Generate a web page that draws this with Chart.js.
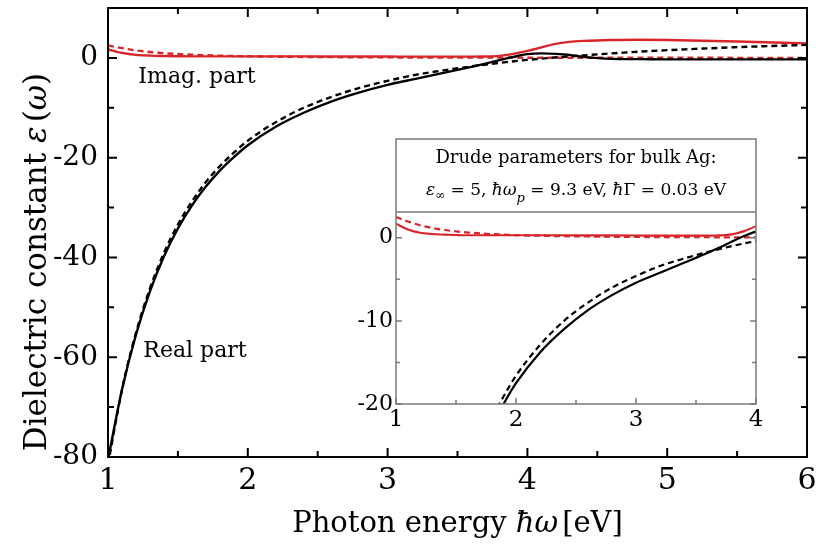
<!DOCTYPE html>
<html>
<head>
<meta charset="utf-8">
<script src="https://cdn.jsdelivr.net/npm/chart.js@4.4.1/dist/chart.umd.min.js"></script>
<style>
body { margin: 0; background: #fff; }
#wrap { position: relative; width: 816px; height: 547px; }
#main { position: absolute; left: 0; top: 0; }
#inset { position: absolute; left: 356px; top: 130px; }
</style>
</head>
<body>
<div id="wrap">
  <canvas id="main" width="816" height="547"></canvas>
  <canvas id="inset" width="430" height="310"></canvas>
</div>
<script>
// dielectric function of silver: measured curve vs Drude model (photon energy in eV)
const expEnergy = [1.0, 1.1, 1.2, 1.3, 1.4, 1.5, 1.6, 1.7, 1.8, 1.9, 2.0, 2.2, 2.4, 2.6, 2.8, 3.0,
                   3.2, 3.4, 3.6, 3.7, 3.8, 3.9, 4.0, 4.1, 4.2, 4.3, 4.4, 4.6, 4.8, 5.0, 5.5, 6.0];
const expReal = [-80.5, -66.5, -55.5, -46.8, -39.8, -34.2, -29.6, -25.8, -22.6, -19.9, -17.5, -13.8,
                 -11.0, -8.7, -6.9, -5.4, -4.2, -3.0, -1.8, -1.15, -0.45, 0.2, 0.75, 0.9, 0.8, 0.6,
                 0.2, -0.2, -0.25, -0.3, -0.3, -0.3];
const expImag = [1.7, 1.0, 0.6, 0.45, 0.38, 0.33, 0.3, 0.3, 0.3, 0.3, 0.3, 0.3, 0.3, 0.28, 0.28, 0.27,
                 0.25, 0.25, 0.25, 0.28, 0.4, 0.8, 1.4, 2.1, 2.8, 3.2, 3.4, 3.6, 3.65, 3.6, 3.3, 2.9];

const drudeEnergy = [1.0, 1.1, 1.2, 1.3, 1.4, 1.5, 1.6, 1.7, 1.8, 1.9, 2.0, 2.2, 2.4, 2.6, 2.8, 3.0,
                     3.2, 3.4, 3.6, 3.8, 4.0, 4.4, 4.8, 5.2, 5.6, 6.0];
const drudeReal = [-81.5, -66.5, -55.1, -46.2, -39.1, -33.4, -28.8, -24.9, -21.7, -19.0, -16.6, -12.9,
                   -10.0, -7.8, -6.0, -4.6, -3.4, -2.5, -1.7, -1.0, -0.4, 0.5, 1.25, 1.8, 2.25, 2.6];
const drudeImag = [2.5, 1.95, 1.5, 1.18, 0.94, 0.77, 0.63, 0.53, 0.44, 0.38, 0.32, 0.24, 0.19, 0.15,
                   0.12, 0.1, 0.08, 0.07, 0.06, 0.05, 0.04, 0.03, 0.02, 0.02, 0.01, 0.01];

const mainXTicks = [1, 2, 3, 4, 5, 6];
const mainYTicks = [-80, -60, -40, -20, 0];
const insetXTicks = [1, 2, 3, 4];
const insetYTicks = [-20, -10, 0];

const RED = '#d7262b';
const FONT = "'DejaVu Serif', serif";

function pts(xs, ys) {
    return xs.map((x, i) => ({ x: x, y: ys[i] }));
}

function curves(width) {
    return [
        { data: pts(expEnergy, expReal), borderColor: '#000' },
        { data: pts(drudeEnergy, drudeReal), borderColor: '#000', borderDash: [6, 4] },
        { data: pts(expEnergy, expImag), borderColor: RED },
        { data: pts(drudeEnergy, drudeImag), borderColor: RED, borderDash: [6, 4] }
    ].map(d => Object.assign(d, {
        borderWidth: width,
        pointRadius: 0,
        fill: false,
        cubicInterpolationMode: 'monotone'
    }));
}

// text made of runs, some italic / shifted (subscripts)
function drawRuns(ctx, runs, x, y, size, rotate) {
    ctx.save();
    ctx.translate(x, y);
    if (rotate) ctx.rotate(-Math.PI / 2);
    ctx.textBaseline = 'alphabetic';
    ctx.textAlign = 'left';
    ctx.fillStyle = '#000';
    const fontOf = r => (r.it ? 'italic ' : '') + Math.round(size * (r.scale || 1)) + 'px ' + FONT;
    let total = 0;
    runs.forEach(r => {
        ctx.font = fontOf(r);
        r.w = ctx.measureText(r.t).width + (r.gap || 0);
        total += r.w;
    });
    let cx = -total / 2;
    runs.forEach(r => {
        ctx.font = fontOf(r);
        ctx.fillText(r.t, cx, r.dy || 0);
        cx += r.w;
    });
    ctx.restore();
}

function minors(list) {
    const out = [];
    for (let i = 0; i < list.length - 1; i++) out.push((list[i] + list[i + 1]) / 2);
    return out;
}

// box around the plot area with inward ticks
function drawFrame(chart, cfg) {
    const ctx = chart.ctx;
    const a = chart.chartArea;
    const sx = chart.scales.x, sy = chart.scales.y;
    const top = cfg.boxTop !== undefined ? cfg.boxTop : a.top;
    ctx.save();
    ctx.strokeStyle = cfg.color;
    ctx.lineWidth = cfg.width;
    ctx.strokeRect(a.left, top, a.right - a.left, a.bottom - top);
    if (cfg.boxTop !== undefined) {
        ctx.beginPath();
        ctx.moveTo(a.left, a.top);
        ctx.lineTo(a.right, a.top);
        ctx.stroke();
    }
    ctx.beginPath();
    const xt = cfg.xTicks.map(v => [v, cfg.major]).concat(minors(cfg.xTicks).map(v => [v, cfg.minor]));
    xt.forEach(([v, len]) => {
        const px = sx.getPixelForValue(v);
        ctx.moveTo(px, a.bottom);
        ctx.lineTo(px, a.bottom - len);
        if (cfg.topTicks) {
            ctx.moveTo(px, a.top);
            ctx.lineTo(px, a.top + len);
        }
    });
    const yt = cfg.yTicks.map(v => [v, cfg.major]).concat(minors(cfg.yTicks).map(v => [v, cfg.minor]));
    yt.forEach(([v, len]) => {
        const py = sy.getPixelForValue(v);
        ctx.moveTo(a.left, py);
        ctx.lineTo(a.left + len, py);
        ctx.moveTo(a.right, py);
        ctx.lineTo(a.right - len, py);
    });
    ctx.stroke();
    ctx.restore();
}

function axisOptions(min, max, ticks, size, pad, fit) {
    return {
        type: 'linear',
        min: min,
        max: max,
        afterFit: s => {
            // plot area is set by hand, no room kept for overhanging labels
            s.paddingTop = s.paddingBottom = s.paddingLeft = s.paddingRight = 0;
            fit(s);
        },
        afterBuildTicks: s => { s.ticks = ticks.map(v => ({ value: v })); },
        grid: { display: false, drawTicks: false },
        border: { display: false },
        ticks: {
            color: '#000',
            padding: pad,
            autoSkip: false,
            maxRotation: 0,
            font: { family: FONT, size: size }
        }
    };
}

const mainDecor = {
    id: 'mainDecor',
    afterDraw(chart) {
        const ctx = chart.ctx;
        const a = chart.chartArea;
        drawFrame(chart, {
            color: '#000', width: 2, major: 9, minor: 6, topTicks: true,
            xTicks: mainXTicks, yTicks: mainYTicks
        });
        drawRuns(ctx, [
            { t: 'Photon energy ' }, { t: 'ħω', it: true, gap: 4 }, { t: '[eV]' }
        ], (a.left + a.right) / 2, 532, 29);
        drawRuns(ctx, [
            { t: 'Dielectric constant ' }, { t: 'ε', it: true, gap: 4 },
            { t: '(' }, { t: 'ω', it: true }, { t: ')' }
        ], 46, 262, 31, true);
        drawRuns(ctx, [{ t: 'Imag. part' }], 197, 83, 22);
        drawRuns(ctx, [{ t: 'Real part' }], 195, 357, 22);
    }
};

const insetDecor = {
    id: 'insetDecor',
    beforeDraw(chart) {
        const ctx = chart.ctx;
        const a = chart.chartArea;
        ctx.save();
        ctx.fillStyle = '#fff';
        ctx.fillRect(a.left, 9, a.right - a.left, a.bottom - 9);
        ctx.restore();
    },
    afterDraw(chart) {
        const ctx = chart.ctx;
        const a = chart.chartArea;
        drawFrame(chart, {
            color: '#7a7a7a', width: 1.5, major: 6, minor: 4, boxTop: 9,
            xTicks: insetXTicks, yTicks: insetYTicks
        });
        const cx = (a.left + a.right) / 2;
        drawRuns(ctx, [{ t: 'Drude parameters for bulk Ag:' }], cx, 33, 18);
        drawRuns(ctx, [
            { t: 'ε', it: true }, { t: '∞', scale: 0.7, dy: 4 }, { t: ' = 5, ' },
            { t: 'ħω', it: true }, { t: 'p', it: true, scale: 0.75, dy: 7 }, { t: ' = 9.3 eV, ' },
            { t: 'ħ', it: true }, { t: 'Γ = 0.03 eV' }
        ], cx, 65, 17);
    }
};

new Chart(document.getElementById('main'), {
    type: 'line',
    data: { datasets: curves(2.4) },
    options: {
        responsive: false,
        animation: false,
        events: [],
        layout: { padding: { top: 8, right: 9, left: 0, bottom: 0 } },
        plugins: { legend: { display: false }, tooltip: { enabled: false } },
        scales: {
            x: axisOptions(1, 6, mainXTicks, 30, 6, s => { s.height = 90; }),
            y: axisOptions(-80, 10, mainYTicks, 28, 10, s => { s.width = 108; })
        }
    },
    plugins: [mainDecor]
});

new Chart(document.getElementById('inset'), {
    type: 'line',
    data: { datasets: curves(2.2) },
    options: {
        responsive: false,
        animation: false,
        events: [],
        layout: { padding: { top: 82, right: 30, left: 0, bottom: 0 } },
        plugins: { legend: { display: false }, tooltip: { enabled: false } },
        scales: {
            x: axisOptions(1, 4, insetXTicks, 23, 2, s => { s.height = 36; }),
            y: axisOptions(-20, 3.1, insetYTicks, 22, 3, s => { s.width = 40; })
        }
    },
    plugins: [insetDecor]
});
</script>
</body>
</html>
